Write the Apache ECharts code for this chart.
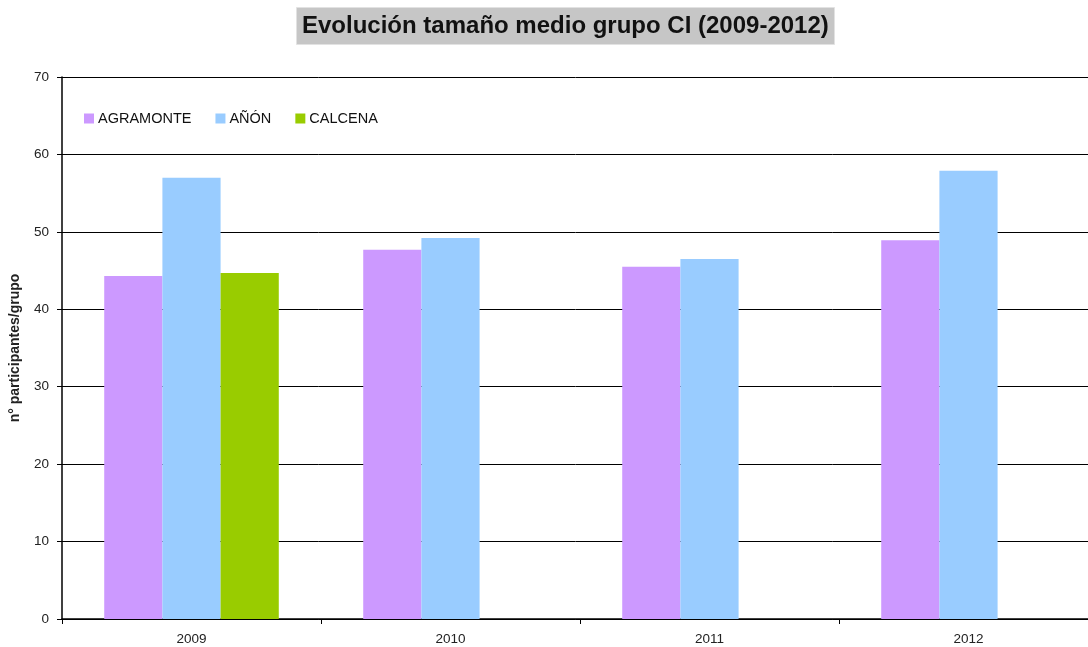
<!DOCTYPE html>
<html>
<head>
<meta charset="utf-8">
<script src="https://cdn.jsdelivr.net/npm/echarts@6/dist/echarts.min.js"></script>
<style>
  html, body { margin: 0; padding: 0; background: #fff; }
  #chart { width: 1088px; height: 647px; }
</style>
</head>
<body>
<div id="chart"></div>
<script>
const years = ['2009', '2010', '2011', '2012'];
const agramonte = [44.3, 47.7, 45.5, 48.9];
const anon = [57.0, 49.2, 46.5, 57.9];
const calcena = [44.7, null, null, null];

const chart = echarts.init(document.getElementById('chart'));
const font = 'Liberation Sans, Arial, sans-serif';

chart.setOption({
  animation: false,
  textStyle: { fontFamily: font },
  title: {
    text: 'Evolución tamaño medio grupo CI (2009-2012)',
    left: 296,
    top: 7,
    padding: [7, 6, 7, 6],
    backgroundColor: '#c6c6c6',
    borderColor: '#e2e2e2',
    borderWidth: 1,
    textStyle: { fontFamily: font, fontSize: 24, fontWeight: 'bold', color: '#111' }
  },
  legend: {
    left: 79,
    top: 106,
    itemWidth: 10,
    itemHeight: 10,
    itemGap: 24,
    icon: 'rect',
    textStyle: { fontFamily: font, fontSize: 14.5, color: '#111', padding: [0, 0, 0, -1] },
    data: ['AGRAMONTE', 'AÑÓN', 'CALCENA']
  },
  // plot area runs past the right edge of the picture
  grid: { left: 62, width: 1036, top: 77, bottom: 28, containLabel: false, outerBoundsMode: 'none' },
  xAxis: {
    type: 'category',
    data: years,
    axisLine: { lineStyle: { color: '#000', width: 1.5 } },
    axisTick: { show: true, length: 5, lineStyle: { color: '#000' } },
    axisLabel: { color: '#222', fontSize: 13.5, margin: 13 }
  },
  yAxis: {
    type: 'value',
    min: 0,
    max: 70,
    interval: 10,
    name: 'n° participantes/grupo',
    nameLocation: 'middle',
    nameGap: 40,
    nameTextStyle: { fontFamily: font, fontSize: 14, fontWeight: 'bold', color: '#222' },
    axisLine: { show: true, lineStyle: { color: '#000', width: 1.5 } },
    axisTick: { show: true, length: 5, lineStyle: { color: '#000' } },
    axisLabel: { color: '#222', fontSize: 13.5, margin: 13 },
    splitLine: { lineStyle: { color: '#000', width: 1 } }
  },
  series: [
    { name: 'AGRAMONTE', type: 'bar', data: agramonte, itemStyle: { color: '#cc99ff' }, barGap: '0%', barCategoryGap: '32.6%' },
    { name: 'AÑÓN', type: 'bar', data: anon, itemStyle: { color: '#99ccff' }, barGap: '0%', barCategoryGap: '32.6%' },
    { name: 'CALCENA', type: 'bar', data: calcena, itemStyle: { color: '#99cc00' }, barGap: '0%', barCategoryGap: '32.6%' }
  ]
});
</script>
</body>
</html>
